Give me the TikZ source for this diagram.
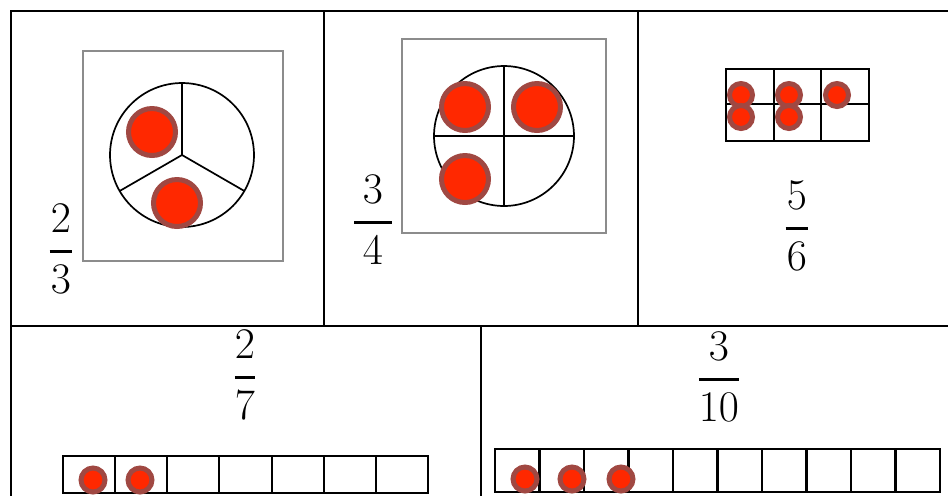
\documentclass[tikz,border=0pt]{standalone}
\usepackage{amsmath}
\usetikzlibrary{positioning}
\definecolor{tokenred}{RGB}{255,40,0}
\definecolor{tokenrim}{RGB}{160,72,66}
\definecolor{plategray}{RGB}{140,140,140}
\tikzset{
  rule/.style={line width=0.45mm},
  plate/.style={draw=plategray,line width=0.3mm},
  pie/.style={circle,draw=black,line width=0.34mm,outer sep=0pt,minimum size=#1},
  cell/.style={draw=black,line width=0.42mm},
  token/.style={circle,fill=tokenred,draw=tokenrim,line width=1mm,minimum size=#1,inner sep=0pt},
  token/.default=9.4mm,
  frac/.style={inner sep=0pt,font=\fontsize{23}{27}\selectfont},
}
% fraction with a bar padded by #1 on each side
\newcommand{\fr}[3][0pt]{$\genfrac{}{}{2.2pt}{0}{\kern#1#2\kern#1}{\kern#1#3\kern#1}$}

\begin{document}
\begin{tikzpicture}[x=0.02cm,y=-0.02cm]
  \useasboundingbox (0,0) rectangle (948,495);
  \clip (0,0) rectangle (948,495);
  % table
  \draw[rule] (11,500) -- (11,11) -- (960,11);
  \draw[rule] (11,326) -- (960,326);
  \draw[rule] (324,11) -- (324,326) (638,11) -- (638,326) (481,326) -- (481,500);

  % 2/3
  \draw[plate] (83,51) rectangle (283,261);
  \node[pie=28.8mm] (pie3) at (182,155) {};
  \draw[pie] (pie3.center) -- (pie3.north) (pie3.center) -- (pie3.210) (pie3.center) -- (pie3.330);
  \node[token] (a1) at (152,132) {};
  \node[token] (a2) at (177,203) {};
  \node[frac] (q23) at (61,249) {\fr[0.8pt]{2}{3}};

  % 3/4
  \draw[plate] (402,39) rectangle (606,233);
  \node[pie=28mm] (pie4) at (504,136) {};
  \draw[pie] (pie4.north) -- (pie4.south) (pie4.west) -- (pie4.east);
  \node[token] (b1) at (465,107) {};
  \node[token] (b2) at (537,107) {};
  \node[token] (b3) at (465,179) {};
  \node[frac] (q34) at (373,220) {\fr[5pt]{3}{4}};

  % 5/6
  \draw[cell] (726,69) rectangle (869,141);
  \draw[cell] (726,104) -- (869,104);
  \foreach \x in {773.7,821.3} \draw[cell] (\x,69) -- (\x,141);
  \foreach \n/\x/\y in {1/741/95,2/741/117,3/789/95,4/789/117,5/837/95}
    \node[token=4.6mm] (c\n) at (\x,\y) {};
  \node[frac] (q56) at (797,226) {\fr[0.8pt]{5}{6}};

  % 2/7
  \foreach \i in {0,...,6} \draw[cell] ({63+\i*52.14},456) rectangle ++(52.14,37);
  \node[token=4.8mm] (d1) at (93,480) {};
  \node[token=4.8mm] (d2) at (140,480) {};
  \node[frac] (q27) at (245,375) {\fr{2}{7}};

  % 3/10
  \foreach \i in {0,...,9} \draw[cell] ({495+\i*44.5},449) rectangle ++(44.5,43);
  \node[token=4.8mm] (e1) at (525,479) {};
  \node[token=4.8mm] (e2) at (572,479) {};
  \node[token=4.8mm] (e3) at (621,479) {};
  \node[frac] (q310) at (719,377) {\fr{3}{10}};
\end{tikzpicture}
\end{document}
